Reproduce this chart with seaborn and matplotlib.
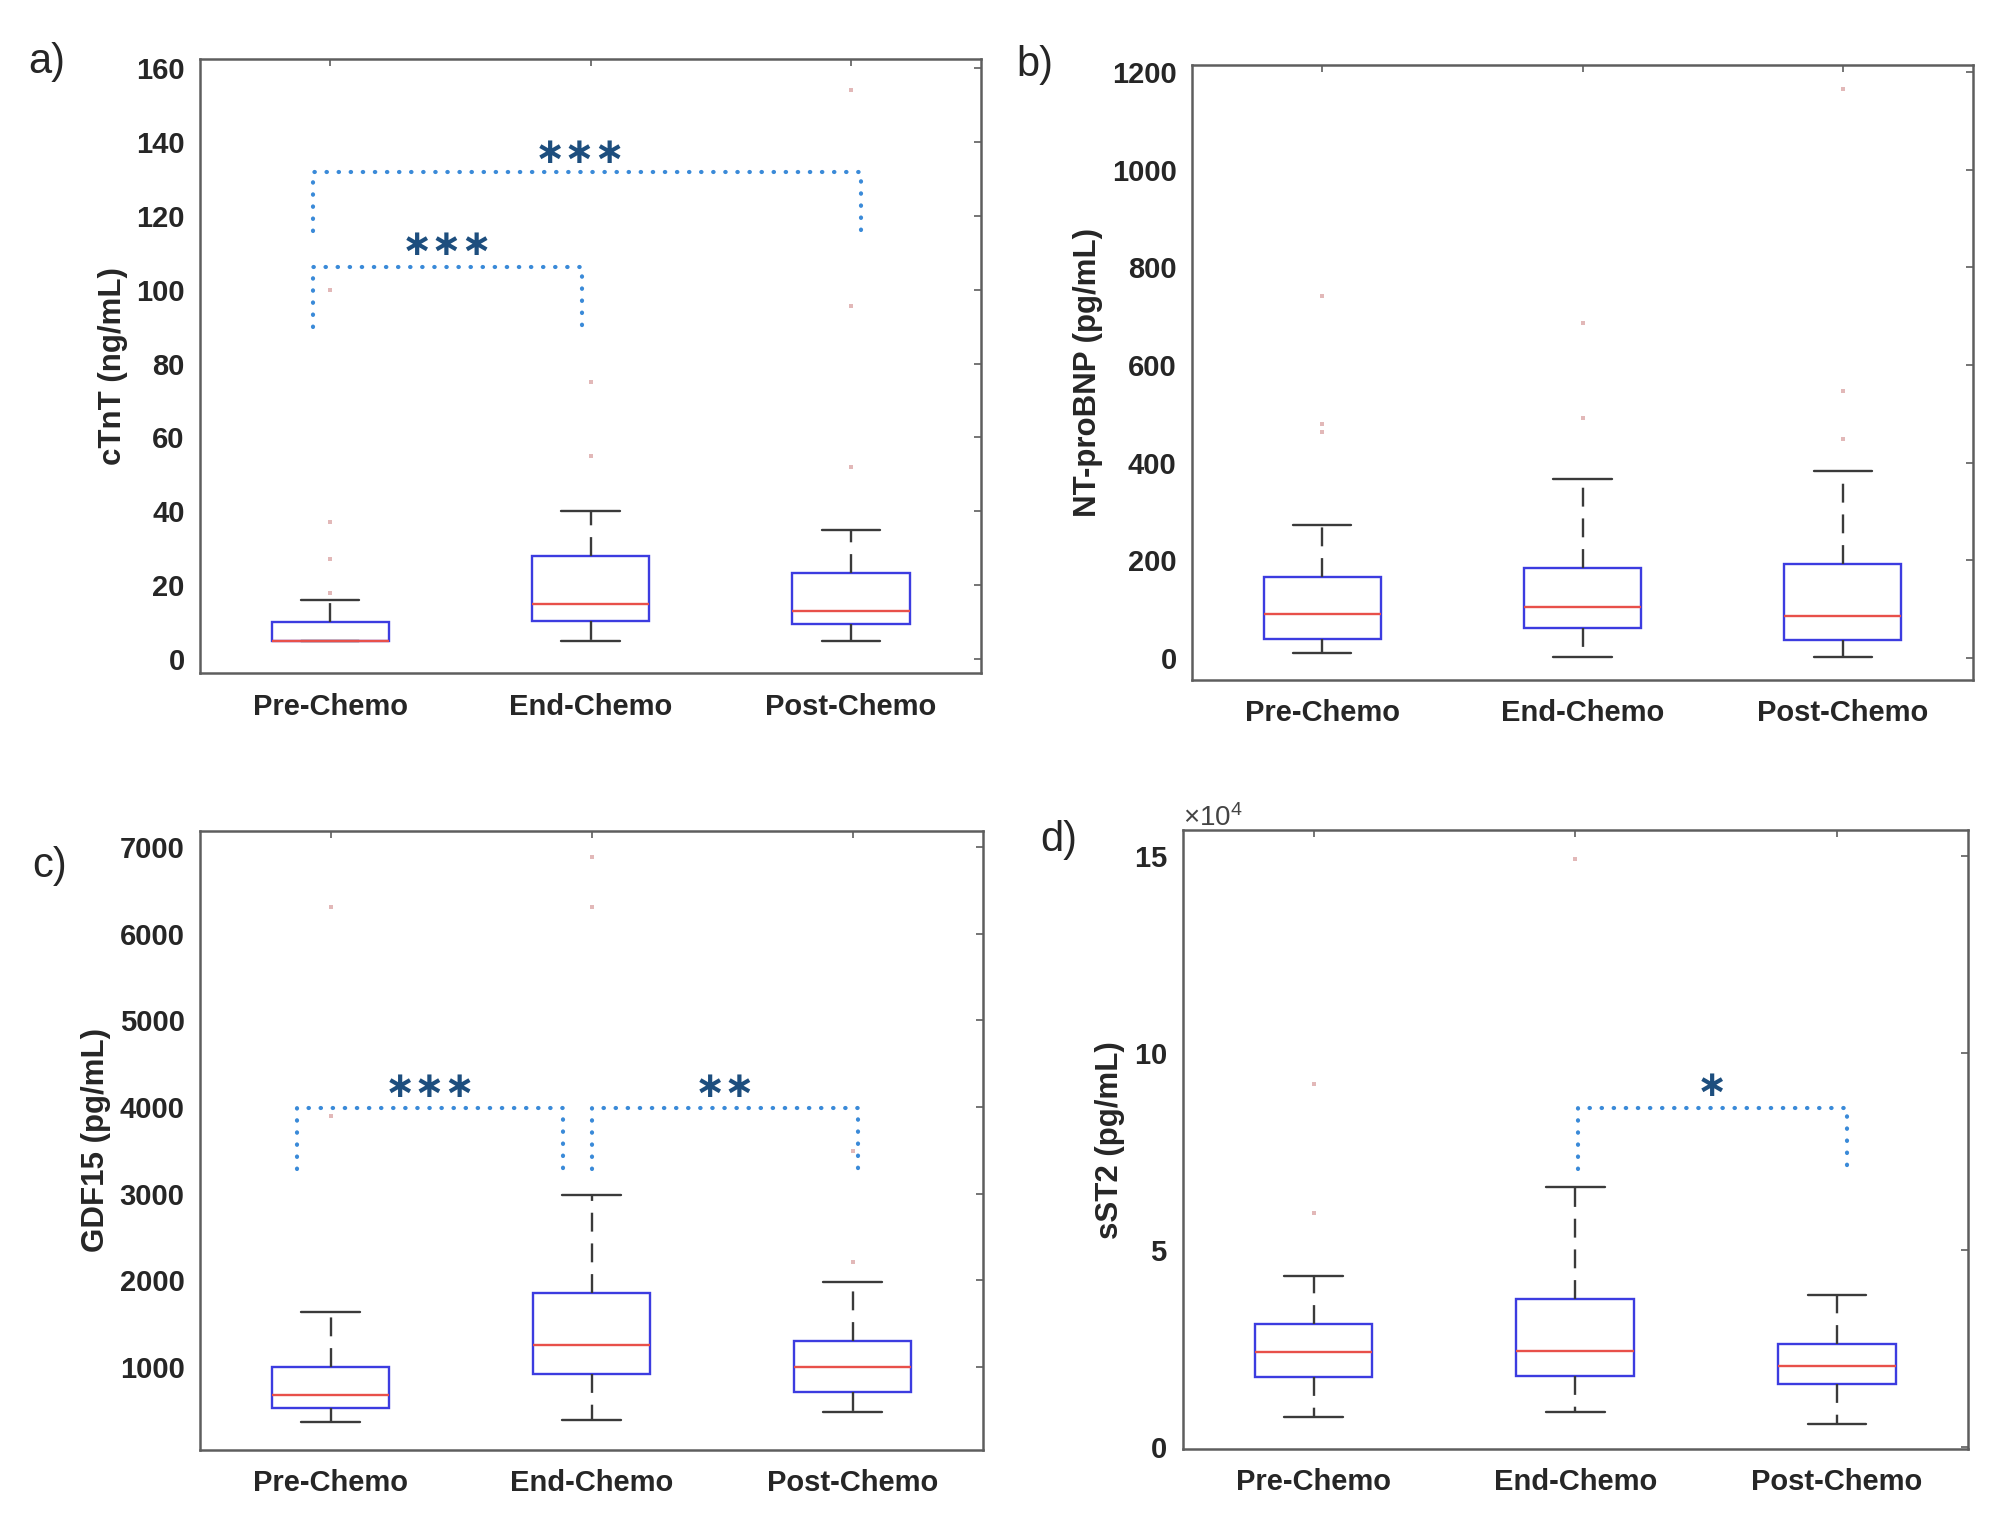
import numpy as np
import pandas as pd
import matplotlib
matplotlib.use("Agg")
import matplotlib.pyplot as plt
import seaborn as sns
from matplotlib.ticker import ScalarFormatter

groups = ["Pre-Chemo", "End-Chemo", "Post-Chemo"]

# box summaries: [lower whisker, Q1, median, Q3, upper whisker]
ctnt_box = [[5, 5, 5, 10, 16], [5, 10.4, 15, 27.8, 40], [5, 9.4, 13, 23.2, 35]]
ctnt_out = [[18, 27, 37, 100], [55, 75], [52, 95.5, 154]]

bnp_box = [[10, 39, 90, 166, 272], [2, 61, 104, 185, 367], [2, 36, 85, 193, 383]]
bnp_out = [[462, 479, 741], [491, 687], [448, 547, 1166]]

gdf_box = [[360, 524, 677, 1000, 1629], [392, 918, 1257, 1848, 2987], [486, 710, 1000, 1296, 1980]]
gdf_out = [[3890, 6304], [6300, 6878], [2210, 3496]]

sst2_box = [[7500, 17700, 24200, 31300, 43400], [8900, 18000, 24300, 37700, 66000],
            [5900, 16000, 20500, 26100, 38600]]
sst2_out = [[59400, 92200], [149400], []]

# significance brackets: (x left, x right, y foot, y bar, stars, star x, star y)
ctnt_sig = [(-0.065, 0.968, 89.9, 106.1, "∗∗∗", 0.45, 112),
            (-0.065, 2.04, 115.9, 131.8, "∗∗∗", 0.96, 137)]
gdf_sig = [(-0.13, 0.89, 3280, 3990, "∗∗∗", 0.38, 4235),
           (1.0, 2.02, 3280, 3990, "∗∗", 1.51, 4235)]
sst2_sig = [(1.01, 2.04, 70500, 86100, "∗", 1.52, 91600)]

sns.set_style("white")
plt.rcParams["font.family"] = ["Liberation Sans", "DejaVu Sans"]
plt.rcParams["mathtext.default"] = "regular"

frame = "#5e5e5e"
txt = "#262626"


def panel(ax, box, out, ylabel, ylim, yticks, sig):
    df = pd.DataFrame({"group": np.repeat(groups, 5), "value": np.ravel(box)})
    sns.boxplot(data=df, x="group", y="value", order=groups, whis=(0, 100),
                width=0.45, showfliers=False, linewidth=1.7, ax=ax,
                boxprops=dict(facecolor="none", edgecolor="#3c3ce0"),
                medianprops=dict(color="#e8504a"),
                whiskerprops=dict(color="#3a3a3a", linestyle=(0, (8, 5))),
                capprops=dict(color="#3a3a3a"))
    fl = pd.DataFrame({"group": [g for g, o in zip(groups, out) for _ in o],
                       "value": [v for o in out for v in o]})
    sns.stripplot(data=fl, x="group", y="value", order=groups, jitter=False,
                  marker="s", size=2.2, color="#e2b8b8", linewidth=0, ax=ax)

    for x0, x1, yf, yb, stars, sx, sy in sig:
        ax.plot([x0, x0, x1, x1], [yf, yb, yb, yf], color="#3a8ad8", lw=3,
                linestyle=(0, (0.1, 2.8)), dash_capstyle="round")
        ax.text(sx, sy, stars, ha="center", va="center", fontsize=26,
                color="#1d4e7e", family="DejaVu Sans", fontweight="bold")

    ax.set_xlim(-0.5, 2.5)
    ax.set_ylim(*ylim)
    ax.set_yticks(yticks)
    ax.set_xlabel("")
    ax.set_ylabel(ylabel, fontsize=22.5, fontweight="bold", color=txt, labelpad=6)
    ax.tick_params(axis="both", direction="in", top=True, right=True, length=5,
                   width=1.2, color=frame, labelsize=21, labelcolor=txt)
    ax.tick_params(axis="x", pad=14)
    ax.tick_params(axis="y", pad=11)
    for lab in ax.get_xticklabels() + ax.get_yticklabels():
        lab.set_fontweight("bold")
    for sp in ax.spines.values():
        sp.set_visible(True)
        sp.set_color(frame)
        sp.set_linewidth(1.8)


fig = plt.figure(figsize=(20.08, 15.16), dpi=100)
ax_a = fig.add_axes([0.0996, 0.556, 0.389, 0.405])
ax_b = fig.add_axes([0.5936, 0.5515, 0.389, 0.4055])
ax_c = fig.add_axes([0.0996, 0.0435, 0.390, 0.4085])
ax_d = fig.add_axes([0.589, 0.0442, 0.391, 0.408])

panel(ax_a, ctnt_box, ctnt_out, "cTnT (ng/mL)", (-3.8, 162.4), np.arange(0, 161, 20), ctnt_sig)
panel(ax_b, bnp_box, bnp_out, "NT-proBNP (pg/mL)", (-45, 1214), np.arange(0, 1201, 200), [])
panel(ax_c, gdf_box, gdf_out, "GDF15 (pg/mL)", (42, 7185), np.arange(1000, 7001, 1000), gdf_sig)
panel(ax_d, sst2_box, sst2_out, "sST2 (pg/mL)", (-500, 156600), [0, 50000, 100000, 150000], sst2_sig)

fmt = ScalarFormatter(useMathText=True)
fmt.set_powerlimits((4, 4))
ax_d.yaxis.set_major_formatter(fmt)
ax_d.yaxis.get_offset_text().set_fontsize(20)
ax_d.yaxis.get_offset_text().set_color("#444444")

for x, y, s in [(0.014, 0.959, "a)"), (0.506, 0.957, "b)"),
                (0.016, 0.429, "c)"), (0.518, 0.446, "d)")]:
    fig.text(x, y, s, fontsize=30, color=txt, va="center", ha="left")

fig.savefig("out.png", dpi=100)
